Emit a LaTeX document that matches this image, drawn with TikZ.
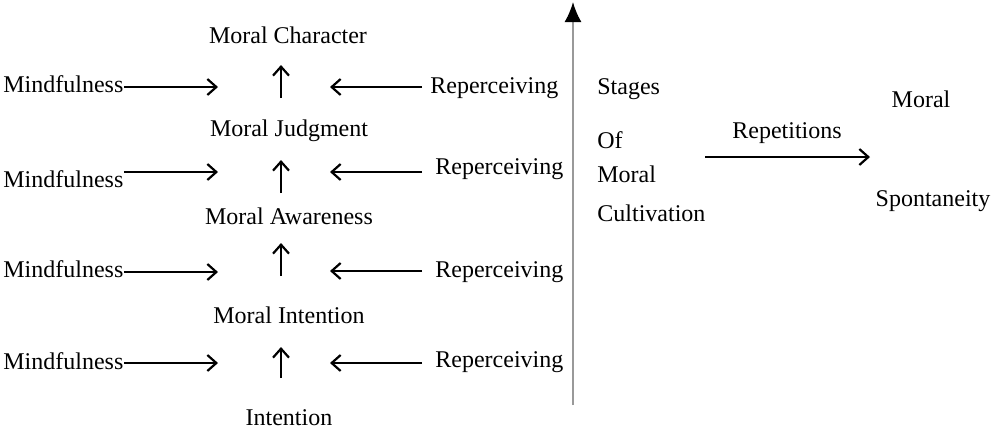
\documentclass[tikz,border=0pt]{standalone}
\usepackage{fontspec}
\setmainfont{Liberation Serif}
\usetikzlibrary{positioning,arrows.meta}

\begin{document}
\begin{tikzpicture}[x=0.5pt,y=-0.5pt,
    word/.style={inner sep=0pt,text height=7.9pt,text depth=0pt,font=\fontsize{12}{14}\selectfont},
    flow/.style={-{Straight Barb[length=4.5pt,width=8pt,line width=1.1pt]},line width=0.65pt},
    axis/.style={draw=black!40,line width=1pt,-{Latex[length=10pt,width=8.5pt,black]}}] %
    \useasboundingbox (0,0) rectangle (993,430);
    % stages
    \node[word] (character) at (288,36) {Moral Character} ; %
    \node[word] (judgment) at (289,129) {Moral Judgment} ; %
    \node[word] (awareness) at (289,217) {Moral Awareness} ; %
    \node[word] (mintention) at (289,316) {Moral Intention} ; %
    \node[word] (intention) at (289,418) {Intention} ; %
    \coordinate (up1a) at (281,98); \coordinate (up1b) at (281,65);
    \coordinate (up2a) at (281,193); \coordinate (up2b) at (281,160);
    \coordinate (up3a) at (281,276); \coordinate (up3b) at (281,243);
    \coordinate (up4a) at (281,378); \coordinate (up4b) at (281,347);
    \draw[flow] (up1a) -- (up1b);
    \draw[flow] (up2a) -- (up2b);
    \draw[flow] (up3a) -- (up3b);
    \draw[flow] (up4a) -- (up4b);
    % mindfulness side
    \node[word,anchor=west] (mind1) at (3,85) {Mindfulness} ; %
    \node[word,anchor=west] (mind2) at (3,180) {Mindfulness} ; %
    \node[word,anchor=west] (mind3) at (3,270) {Mindfulness} ; %
    \node[word,anchor=west] (mind4) at (3,362) {Mindfulness} ; %
    \coordinate (r1) at (218,87); \coordinate (r2) at (218,172);
    \coordinate (r3) at (218,272); \coordinate (r4) at (218,363);
    \draw[flow] (mind1.east |- r1) -- (r1);
    \draw[flow] (mind2.east |- r2) -- (r2);
    \draw[flow] (mind3.east |- r3) -- (r3);
    \draw[flow] (mind4.east |- r4) -- (r4);
    % reperceiving side
    \node[word,anchor=west] (rep1) at (430,86) {Reperceiving} ; %
    \node[word,anchor=west] (rep2) at (435,167) {Reperceiving} ; %
    \node[word,anchor=west] (rep3) at (435,270) {Reperceiving} ; %
    \node[word,anchor=west] (rep4) at (435,360) {Reperceiving} ; %
    \coordinate (l1) at (330,87); \coordinate (l2) at (330,172);
    \coordinate (l3) at (330,271); \coordinate (l4) at (330,363);
    \draw[flow] ([xshift=-4pt]rep1.west |- l1) -- (l1);
    \draw[flow] ([xshift=-6.5pt]rep2.west |- l2) -- (l2);
    \draw[flow] ([xshift=-6.5pt]rep3.west |- l3) -- (l3);
    \draw[flow] ([xshift=-6.5pt]rep4.west |- l4) -- (l4);
    % axis
    \coordinate (axbot) at (573,405);
    \coordinate (axtop) at (573,2);
    \draw[axis] (axbot) -- (axtop);
    \node[word,anchor=west] (stages) at (597,87) {Stages} ; %
    \node[word,anchor=west] (of) at (597,141) {Of} ; %
    \node[word,anchor=west] (moral) at (597,175) {Moral} ; %
    \node[word,anchor=west] (cultivation) at (597,214) {Cultivation} ; %
    % repetitions
    \coordinate (repa) at (705,157);
    \coordinate (repb) at (870,157);
    \draw[flow] (repa) -- (repb);
    \node[word] (repetitions) at (787,131) {Repetitions} ; %
    \node[word] (moralsp) at (921,100) {Moral} ; %
    \node[word, below=41pt of moralsp, xshift=6pt] (spont) {Spontaneity} ; %
\end{tikzpicture}
\end{document}
